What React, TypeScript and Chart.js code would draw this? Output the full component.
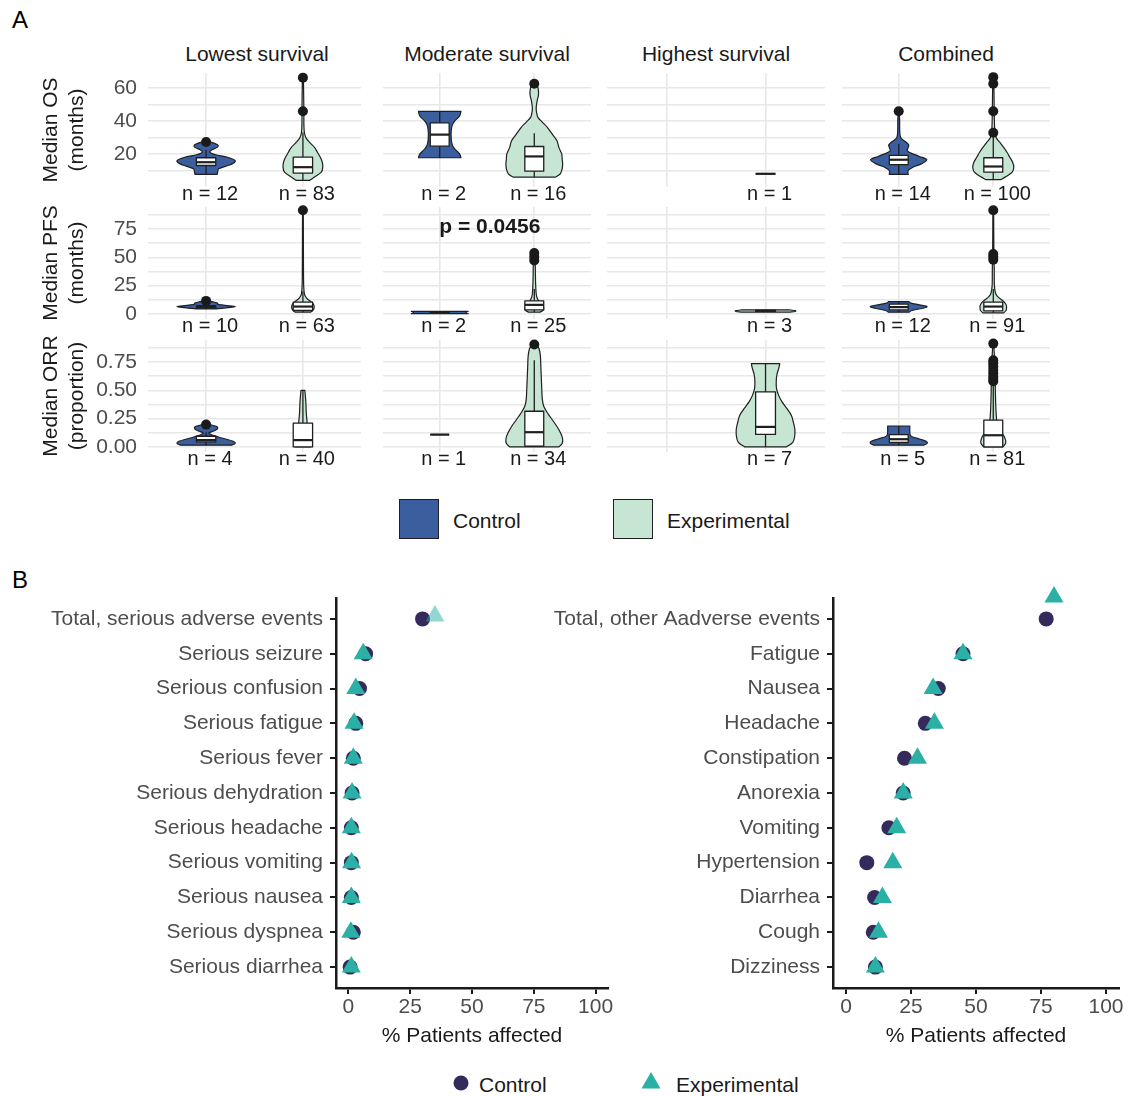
import React, { useEffect, useRef } from "react";
import { Chart, registerables } from "chart.js";
Chart.register(...registerables);

type Pt = [number, number];
type Box5 = [number, number, number, number, number];

const FONT = '"Liberation Sans", Arial, Helvetica, sans-serif';

// ================= Panel A data =================
const survivalGroups = ["Lowest survival", "Moderate survival", "Highest survival", "Combined"];
const armNames = ["Control", "Experimental"];

const osAxisTitle = ["Median OS", "(months)"];
const pfsAxisTitle = ["Median PFS", "(months)"];
const orrAxisTitle = ["Median ORR", "(proportion)"];

const osRange = [0, 69];
const pfsRange = [-4.5, 94.5];
const orrRange = [-0.045, 0.945];
const osMajorTicks = [20, 40, 60];
const osMinorTicks = [10, 30, 50];
const pfsMajorTicks = [0, 25, 50, 75];
const pfsMinorTicks = [12.5, 37.5, 62.5, 87.5];
const orrMajorTicks = [0, 0.25, 0.5, 0.75];
const orrMinorTicks = [0.125, 0.375, 0.625, 0.875];

// violin outlines: [value, half-width in category units]
const osLowestControlViolin: Pt[] = [[7.6, 0.115], [9, 0.12], [11, 0.13], [12.5, 0.2], [14, 0.27], [16, 0.3], [18, 0.22], [19.5, 0.1], [21, 0.04], [22.5, 0.06], [24, 0.115], [25.5, 0.12], [27.2, 0.05]];
const osLowestExpViolin: Pt[] = [[4, 0.07], [6, 0.12], [9, 0.19], [12, 0.205], [15, 0.2], [18, 0.18], [21, 0.15], [24, 0.12], [27, 0.07], [30, 0.03], [33, 0.015], [38, 0.01], [45.8, 0.01], [55, 0.008], [66.2, 0.005]];
const osModerateControlViolin: Pt[] = [[17.7, 0.225], [20, 0.21], [23, 0.16], [26, 0.13], [31.7, 0.12], [37, 0.13], [40, 0.16], [43, 0.21], [45.8, 0.225]];
const osModerateExpViolin: Pt[] = [[6, 0.225], [8, 0.275], [11, 0.295], [14, 0.3], [17, 0.295], [20, 0.29], [24, 0.26], [28, 0.24], [32, 0.19], [36, 0.14], [39, 0.09], [42, 0.04], [45, 0.025], [48, 0.02], [52, 0.03], [56, 0.045], [60, 0.04], [62.5, 0.02]];
const osCombinedControlViolin: Pt[] = [[7.6, 0.1], [10, 0.1], [12, 0.15], [14, 0.24], [16.5, 0.297], [18.5, 0.22], [20.5, 0.13], [22, 0.09], [24, 0.1], [25.5, 0.105], [27.5, 0.07], [30, 0.02], [35, 0.01], [40, 0.01], [45.8, 0.005]];
const osCombinedExpViolin: Pt[] = [[4.5, 0.08], [6.5, 0.14], [9, 0.2], [12, 0.217], [15, 0.205], [18, 0.175], [21, 0.145], [24, 0.11], [27, 0.07], [30, 0.03], [35, 0.015], [45, 0.01], [55, 0.008], [66.5, 0.005]];

const pfsLowestControlViolin: Pt[] = [[4.4, 0.1], [5.5, 0.22], [6.5, 0.3], [7.5, 0.2], [8.5, 0.12], [9.5, 0.12], [10.5, 0.08], [11.5, 0.02]];
const pfsLowestExpViolin: Pt[] = [[1.5, 0.08], [3, 0.1], [5, 0.115], [7, 0.115], [9, 0.105], [11, 0.08], [13, 0.05], [15, 0.03], [18, 0.015], [25, 0.008], [40, 0.006], [60, 0.005], [91.6, 0.004]];
const pfsModerateControlViolin: Pt[] = [[0.2, 0.3], [0.8, 0.28], [1.6, 0.28], [2.2, 0.3]];
const pfsModerateExpViolin: Pt[] = [[1.5, 0.06], [3, 0.09], [5, 0.1], [7, 0.09], [9, 0.07], [11, 0.05], [14, 0.03], [18, 0.02], [25, 0.015], [35, 0.012], [45, 0.01], [53.8, 0.005]];
const pfsHighestExpViolin: Pt[] = [[1.6, 0.25], [2.3, 0.3], [2.9, 0.3], [3.6, 0.24]];
const pfsCombinedControlViolin: Pt[] = [[1.5, 0.11], [3, 0.14], [5, 0.25], [6.5, 0.3], [8, 0.22], [9.5, 0.13], [10.8, 0.11]];
const pfsCombinedExpViolin: Pt[] = [[1, 0.11], [3, 0.135], [5, 0.14], [7, 0.14], [9, 0.13], [11, 0.11], [13, 0.08], [15, 0.05], [18, 0.025], [25, 0.012], [40, 0.01], [60, 0.006], [91.6, 0.004]];

const orrLowestControlViolin: Pt[] = [[0.015, 0.26], [0.03, 0.3], [0.05, 0.28], [0.07, 0.2], [0.09, 0.12], [0.11, 0.05], [0.125, 0.03], [0.14, 0.08], [0.16, 0.117], [0.18, 0.11], [0.197, 0.04]];
const orrLowestExpViolin: Pt[] = [[0, 0.08], [0.05, 0.09], [0.1, 0.07], [0.15, 0.05], [0.2, 0.045], [0.3, 0.035], [0.4, 0.03], [0.5, 0.02]];
const orrModerateExpViolin: Pt[] = [[0, 0.26], [0.03, 0.295], [0.07, 0.3], [0.12, 0.28], [0.18, 0.24], [0.24, 0.19], [0.3, 0.14], [0.36, 0.1], [0.42, 0.085], [0.5, 0.08], [0.6, 0.075], [0.7, 0.07], [0.8, 0.065], [0.87, 0.05], [0.906, 0.02]];
const orrHighestExpViolin: Pt[] = [[0, 0.21], [0.04, 0.275], [0.1, 0.295], [0.16, 0.295], [0.22, 0.28], [0.28, 0.26], [0.34, 0.215], [0.4, 0.165], [0.46, 0.13], [0.52, 0.11], [0.58, 0.108], [0.64, 0.115], [0.7, 0.135], [0.736, 0.143]];
const orrCombinedControlViolin: Pt[] = [[0.015, 0.26], [0.03, 0.3], [0.05, 0.29], [0.07, 0.22], [0.09, 0.14], [0.11, 0.12], [0.14, 0.117], [0.185, 0.117]];
const orrCombinedExpViolin: Pt[] = [[0, 0.1], [0.03, 0.13], [0.06, 0.13], [0.1, 0.11], [0.15, 0.06], [0.2, 0.04], [0.3, 0.03], [0.4, 0.025], [0.5, 0.022], [0.6, 0.02], [0.7, 0.018], [0.8, 0.012], [0.913, 0.005]];

// box stats: [lower whisker, q1, median, q3, upper whisker]
const osBoxes: (Box5 | null)[][] = [
  [[7.6, 13, 15, 17.7, 22.5], [4, 8.4, 12, 18.1, 33]],
  [[17.7, 24.7, 31.7, 38.8, 45.8], [6, 9.6, 18.5, 24.5, 32.6]],
  [null, [8, 8, 8, 8, 8]],
  [[7.6, 13.6, 16.5, 19.1, 26.2], [4.5, 9, 12.4, 17.7, 30.2]],
];
const pfsBoxes: (Box5 | null)[][] = [
  [[4.4, 5.5, 6.5, 7.3, 9.5], [1.5, 3, 6.5, 10.5, 20]],
  [[0.2, 0.7, 1.2, 1.7, 2.2], [1.5, 3.5, 8, 11.5, 22]],
  [null, [1.6, 2.2, 2.6, 3.0, 3.6]],
  [[1.5, 3.5, 6, 8.6, 10.8], [1, 2.7, 6.5, 10.4, 22]],
];
const orrBoxes: (Box5 | null)[][] = [
  [[0.015, 0.044, 0.06, 0.094, 0.13], [0, 0, 0.06, 0.21, 0.5]],
  [[0.109, 0.109, 0.109, 0.109, 0.109], [0, 0.006, 0.13, 0.315, 0.765]],
  [null, [0, 0.11, 0.177, 0.486, 0.736]],
  [[0.015, 0.039, 0.068, 0.109, 0.185], [0, 0, 0.103, 0.236, 0.55]],
];

const osOutliers: number[][][] = [[[27.2], [45.8, 66.2]], [[], [62.5]], [[], []], [[45.8], [32.8, 45.8, 62.5, 66.5]]];
const pfsOutliers: number[][][] = [[[11.5], [91.6]], [[], [47.3, 50.5, 53.8]], [[], []], [[], [47.9, 50.5, 52.9, 91.6]]];
const orrOutliers: number[][][] = [[[0.197], []], [[], [0.906]], [[], []], [[], [0.58, 0.6, 0.62, 0.65, 0.68, 0.71, 0.74, 0.765, 0.913]]];

const osCounts = [[12, 83], [2, 16], [null, 1], [14, 100]];
const pfsCounts = [[10, 63], [2, 25], [null, 3], [12, 91]];
const orrCounts = [[4, 40], [1, 34], [null, 7], [5, 81]];

const osViolins = [[osLowestControlViolin, osLowestExpViolin], [osModerateControlViolin, osModerateExpViolin], [null, null], [osCombinedControlViolin, osCombinedExpViolin]];
const pfsViolins = [[pfsLowestControlViolin, pfsLowestExpViolin], [pfsModerateControlViolin, pfsModerateExpViolin], [null, pfsHighestExpViolin], [pfsCombinedControlViolin, pfsCombinedExpViolin]];
const orrViolins = [[orrLowestControlViolin, orrLowestExpViolin], [null, orrModerateExpViolin], [null, orrHighestExpViolin], [orrCombinedControlViolin, orrCombinedExpViolin]];

const pValueText = "p = 0.0456";
const pValueRow = 1;
const pValueCol = 1;
const pValueAt: Pt = [1.53, 77];

// ================= Panel B data =================
const seriousEvents = ["Total, serious adverse events", "Serious seizure", "Serious confusion", "Serious fatigue", "Serious fever", "Serious dehydration", "Serious headache", "Serious vomiting", "Serious nausea", "Serious dyspnea", "Serious diarrhea"];
const seriousControl = [30, 7, 4.5, 3, 2, 1.5, 1.2, 1.2, 1.2, 2, 0.7];
const seriousExperimental = [35, 6, 3, 2.3, 2, 1.5, 1.2, 1.3, 1.2, 1, 1.2];
const seriousExperimentalRowShift = [-0.08, 0, 0, 0, 0, 0, 0, 0, 0, 0, 0];

const otherEvents = ["Total, other Aadverse events", "Fatigue", "Nausea", "Headache", "Constipation", "Anorexia", "Vomiting", "Hypertension", "Diarrhea", "Cough", "Dizziness"];
const otherControl = [77, 45, 35.5, 30.5, 22.5, 22, 16.5, 8, 11, 10.5, 11.3];
const otherExperimental = [80, 45, 33.5, 34, 27.5, 22, 19.5, 18, 14, 12.5, 11.3];
const otherExperimentalRowShift = [-0.63, 0, 0, 0, 0, 0, 0, 0, 0, 0, 0];

const percentRange = [-5, 105];
const percentTicks = [0, 25, 50, 75, 100];
const percentTitle = "% Patients affected";

// ================= styles / layout =================
const CONTROL_FILL = "#3a5e9e";
const EXP_FILL = "#c6e5d2";
const OUTLINE = "#1f1f1f";
const GRID = "#e8e8e8";
const CTRL_DOT = "#342a5b";
const EXP_DOT = "#2ab0a5";
const EXP_DOT_FADED = "rgba(42,176,165,0.5)";
const AXIS = "#1a1a1a";
const TICK_TEXT = "#4d4d4d";
const BOX_HALF = 0.1;

const PANEL_LEFTS = [148, 378, 607, 837];
const PANEL_W = 218;
const ROWS = [{ top: 73, bottom: 187 }, { top: 207, bottom: 319 }, { top: 340, bottom: 452 }];
const PAD_T = 8;
const PAD_B = 24;

const metrics = [
  { title: osAxisTitle, range: osRange, major: osMajorTicks, minor: osMinorTicks, dec: 0, violins: osViolins, boxes: osBoxes, outliers: osOutliers, counts: osCounts },
  { title: pfsAxisTitle, range: pfsRange, major: pfsMajorTicks, minor: pfsMinorTicks, dec: 0, violins: pfsViolins, boxes: pfsBoxes, outliers: pfsOutliers, counts: pfsCounts },
  { title: orrAxisTitle, range: orrRange, major: orrMajorTicks, minor: orrMinorTicks, dec: 2, violins: orrViolins, boxes: orrBoxes, outliers: orrOutliers, counts: orrCounts },
];

function zeroPad(s: any) {
  s.paddingTop = 0;
  s.paddingBottom = 0;
  s.paddingLeft = 0;
  s.paddingRight = 0;
}

function catmull(ctx: CanvasRenderingContext2D, pts: Pt[]) {
  for (let i = 0; i < pts.length - 1; i++) {
    const p0 = pts[Math.max(0, i - 1)], p1 = pts[i], p2 = pts[i + 1], p3 = pts[Math.min(pts.length - 1, i + 2)];
    ctx.bezierCurveTo(
      p1[0] + (p2[0] - p0[0]) / 6, p1[1] + (p2[1] - p0[1]) / 6,
      p2[0] - (p3[0] - p1[0]) / 6, p2[1] - (p3[1] - p1[1]) / 6,
      p2[0], p2[1]
    );
  }
}

function drawViolin(ctx: CanvasRenderingContext2D, xs: any, ys: any, cx: number, profile: Pt[], fill: string) {
  const left: Pt[] = profile.map(([v, w]) => [xs.getPixelForValue(cx - w), ys.getPixelForValue(v)]);
  const right: Pt[] = profile.map(([v, w]) => [xs.getPixelForValue(cx + w), ys.getPixelForValue(v)] as Pt).reverse();
  ctx.beginPath();
  ctx.moveTo(left[0][0], left[0][1]);
  catmull(ctx, left);
  ctx.lineTo(right[0][0], right[0][1]);
  catmull(ctx, right);
  ctx.closePath();
  ctx.fillStyle = fill;
  ctx.fill();
  ctx.lineWidth = 1.2;
  ctx.lineJoin = "round";
  ctx.strokeStyle = OUTLINE;
  ctx.stroke();
}

function drawBox(ctx: CanvasRenderingContext2D, xs: any, ys: any, cx: number, b: Box5) {
  const [lo, q1, med, q3, hi] = b;
  const xl = xs.getPixelForValue(cx - BOX_HALF);
  const xr = xs.getPixelForValue(cx + BOX_HALF);
  const xc = xs.getPixelForValue(cx);
  const yLo = ys.getPixelForValue(lo), yQ1 = ys.getPixelForValue(q1), yMed = ys.getPixelForValue(med);
  const yQ3 = ys.getPixelForValue(q3), yHi = ys.getPixelForValue(hi);
  ctx.strokeStyle = OUTLINE;
  ctx.lineWidth = 1.3;
  ctx.beginPath();
  ctx.moveTo(xc, yQ3); ctx.lineTo(xc, yHi);
  ctx.moveTo(xc, yQ1); ctx.lineTo(xc, yLo);
  ctx.stroke();
  ctx.fillStyle = "#ffffff";
  ctx.fillRect(xl, yQ3, xr - xl, yQ1 - yQ3);
  ctx.strokeRect(xl, yQ3, xr - xl, yQ1 - yQ3);
  ctx.lineWidth = 2.2;
  ctx.beginPath();
  ctx.moveTo(xl, yMed); ctx.lineTo(xr, yMed);
  ctx.stroke();
}

function Label(props: { x: number; y: number; children: any; size?: number; color?: string; align?: string; weight?: number }) {
  const { x, y, children, size = 21, color = "#1a1a1a", align = "left", weight = 400 } = props;
  const tx = align === "center" ? "-50%" : align === "right" ? "-100%" : "0";
  return (
    <div style={{ position: "absolute", left: x, top: y, transform: `translate(${tx},-50%)`, fontSize: size, lineHeight: 1, color, fontWeight: weight, whiteSpace: "nowrap", fontFamily: FONT }}>
      {children}
    </div>
  );
}

function panelGeom(r: number, c: number) {
  const left = c === 0 ? 0 : PANEL_LEFTS[c];
  const width = c === 0 ? PANEL_LEFTS[0] + PANEL_W : PANEL_W;
  const top = ROWS[r].top - PAD_T;
  const height = ROWS[r].bottom - ROWS[r].top + PAD_T + PAD_B;
  return { left, width, top, height };
}

const DOT_TOP = 584;
const DOT_H = 466;
const dotGeoms = [
  { left: 0, width: 620, yWidth: 336, padRight: 12 },
  { left: 520, width: 610, yWidth: 313, padRight: 8 },
];

export default function App() {
  const panelRefs = useRef<(HTMLCanvasElement | null)[]>([]);
  const dotRefs = useRef<(HTMLCanvasElement | null)[]>([]);

  useEffect(() => {
    const charts: Chart[] = [];
    metrics.forEach((m, r) => {
      survivalGroups.forEach((_, c) => {
        const canvas = panelRefs.current[r * 4 + c];
        if (!canvas) return;
        const isFirst = c === 0;
        const plugin = {
          id: "violinPanel" + r + c,
          beforeDatasetsDraw(chart: any) {
            const { ctx, scales } = chart;
            ctx.save();
            for (let a = 0; a < 2; a++) {
              const prof = m.violins[c][a];
              if (prof) drawViolin(ctx, scales.x, scales.y, a + 1, prof, a === 0 ? CONTROL_FILL : EXP_FILL);
              const b = m.boxes[c][a];
              if (b) drawBox(ctx, scales.x, scales.y, a + 1, b);
            }
            ctx.restore();
          },
          afterDraw(chart: any) {
            const { ctx, scales, chartArea } = chart;
            ctx.save();
            ctx.fillStyle = "#1a1a1a";
            ctx.textAlign = "center";
            ctx.textBaseline = "middle";
            ctx.font = `20px ${FONT}`;
            for (let a = 0; a < 2; a++) {
              const n = m.counts[c][a];
              if (n == null) continue;
              ctx.fillText(`n = ${n}`, scales.x.getPixelForValue(a + 1) + 4, chartArea.bottom + 7);
            }
            if (r === pValueRow && c === pValueCol) {
              ctx.font = `bold 21px ${FONT}`;
              ctx.fillText(pValueText, scales.x.getPixelForValue(pValueAt[0]), scales.y.getPixelForValue(pValueAt[1]));
            }
            ctx.restore();
          },
        };
        const datasets = [0, 1].map((a) => ({
          label: armNames[a],
          data: m.outliers[c][a].map((v) => ({ x: a + 1, y: v })),
          pointRadius: 5,
          pointBackgroundColor: "#1a1a1a",
          pointBorderWidth: 0,
          showLine: false,
          clip: false as any,
        }));
        const ch = new Chart(canvas, {
          type: "scatter",
          data: { datasets },
          options: {
            animation: false,
            responsive: false,
            events: [],
            layout: { padding: { top: PAD_T, bottom: PAD_B, left: 0, right: 0 } },
            plugins: { legend: { display: false }, tooltip: { enabled: false } },
            scales: {
              x: {
                type: "linear",
                min: 0.4,
                max: 2.6,
                afterBuildTicks: (s: any) => { s.ticks = [{ value: 1 }, { value: 2 }]; },
                afterFit: (s: any) => { s.height = 0; zeroPad(s); },
                ticks: { display: false },
                grid: { color: GRID, lineWidth: 1.6, drawTicks: false },
                border: { display: false },
              },
              y: {
                type: "linear",
                min: m.range[0],
                max: m.range[1],
                afterBuildTicks: (s: any) => {
                  s.ticks = [...m.major, ...m.minor].sort((p, q) => p - q).map((v) => ({ value: v }));
                },
                afterFit: (s: any) => { s.width = isFirst ? PANEL_LEFTS[0] : 0; zeroPad(s); },
                ticks: {
                  display: isFirst,
                  padding: 11,
                  color: TICK_TEXT,
                  font: { family: FONT, size: 21 },
                  autoSkip: false,
                  callback: (v: any) => (m.major.includes(Number(v)) ? Number(v).toFixed(m.dec) : ""),
                },
                grid: { color: GRID, lineWidth: 1.6, drawTicks: false },
                border: { display: false },
                title: {
                  display: isFirst,
                  text: m.title,
                  color: "#1a1a1a",
                  font: { family: FONT, size: 21, lineHeight: 1.25 },
                  padding: { top: 38, bottom: 0 },
                },
              },
            },
          } as any,
          plugins: [plugin as any],
        });
        charts.push(ch);
      });
    });

    const dotSets = [
      { labels: seriousEvents, ctrl: seriousControl, exp: seriousExperimental, shift: seriousExperimentalRowShift, fadeFirst: true },
      { labels: otherEvents, ctrl: otherControl, exp: otherExperimental, shift: otherExperimentalRowShift, fadeFirst: false },
    ];
    dotSets.forEach((d, i) => {
      const canvas = dotRefs.current[i];
      if (!canvas) return;
      const g = dotGeoms[i];
      const ch = new Chart(canvas, {
        type: "scatter",
        data: {
          datasets: [
            {
              label: "Experimental",
              data: d.exp.map((v, k) => ({ x: v, y: k + 1 + d.shift[k] })),
              pointStyle: "triangle",
              pointRadius: 11,
              pointBackgroundColor: (c: any) => (d.fadeFirst && c.dataIndex === 0 ? EXP_DOT_FADED : EXP_DOT),
              pointBorderWidth: 0,
              order: 0,
              clip: false as any,
            },
            {
              label: "Control",
              data: d.ctrl.map((v, k) => ({ x: v, y: k + 1 })),
              pointStyle: "circle",
              pointRadius: 7.5,
              pointBackgroundColor: CTRL_DOT,
              pointBorderWidth: 0,
              order: 1,
              clip: false as any,
            },
          ],
        },
        options: {
          animation: false,
          responsive: false,
          events: [],
          layout: { padding: { top: 598 - DOT_TOP, bottom: 0, left: 0, right: g.padRight } },
          plugins: { legend: { display: false }, tooltip: { enabled: false } },
          scales: {
            x: {
              type: "linear",
              min: percentRange[0],
              max: percentRange[1],
              afterBuildTicks: (s: any) => { s.ticks = percentTicks.map((v) => ({ value: v })); },
              afterFit: (s: any) => { s.height = 62; zeroPad(s); },
              ticks: { color: TICK_TEXT, font: { family: FONT, size: 21 }, padding: 1, maxRotation: 0, autoSkip: false },
              grid: { drawOnChartArea: false, drawTicks: true, tickLength: 6, color: AXIS, lineWidth: 2 },
              border: { display: true, color: AXIS, width: 2.5 },
              title: { display: true, text: percentTitle, color: "#1a1a1a", font: { family: FONT, size: 21 }, padding: { top: 0, bottom: 1.4 } },
            },
            y: {
              type: "linear",
              reverse: true,
              min: 0.4,
              max: d.labels.length + 0.6,
              afterBuildTicks: (s: any) => { s.ticks = d.labels.map((_, k) => ({ value: k + 1 })); },
              afterFit: (s: any) => { s.width = g.yWidth; zeroPad(s); },
              ticks: {
                color: TICK_TEXT,
                font: { family: FONT, size: 21 },
                padding: 7,
                autoSkip: false,
                callback: (v: any) => d.labels[Number(v) - 1] ?? "",
              },
              grid: { drawOnChartArea: false, drawTicks: true, tickLength: 6, color: AXIS, lineWidth: 2 },
              border: { display: true, color: AXIS, width: 2.5 },
            },
          },
        } as any,
      });
      charts.push(ch);
    });

    return () => charts.forEach((c) => c.destroy());
  }, []);

  const panelCanvases: any[] = [];
  metrics.forEach((_, r) => {
    survivalGroups.forEach((__, c) => {
      const g = panelGeom(r, c);
      panelCanvases.push(
        <canvas
          key={`p${r}${c}`}
          ref={(el) => { panelRefs.current[r * 4 + c] = el; }}
          width={g.width}
          height={g.height}
          style={{ position: "absolute", left: g.left, top: g.top, width: g.width, height: g.height }}
        />
      );
    });
  });

  return (
    <div style={{ position: "fixed", left: 0, top: 0, width: 1130, height: 1096, background: "#ffffff", overflow: "hidden", fontFamily: FONT }}>
      <Label x={12} y={20} size={24} color="#000">A</Label>
      <Label x={12} y={580} size={24} color="#000">B</Label>
      {survivalGroups.map((s, c) => (
        <Label key={s} x={PANEL_LEFTS[c] + PANEL_W / 2} y={53} align="center">{s}</Label>
      ))}
      {panelCanvases}
      {/* Legend A */}
      <div style={{ position: "absolute", left: 399, top: 499, width: 38, height: 38, background: CONTROL_FILL, border: `1.2px solid ${OUTLINE}` }} />
      <Label x={453} y={520}>{armNames[0]}</Label>
      <div style={{ position: "absolute", left: 613, top: 499, width: 38, height: 38, background: EXP_FILL, border: `1.2px solid ${OUTLINE}` }} />
      <Label x={667} y={520}>{armNames[1]}</Label>
      {dotGeoms.map((g, i) => (
        <canvas
          key={`d${i}`}
          ref={(el) => { dotRefs.current[i] = el; }}
          width={g.width}
          height={DOT_H}
          style={{ position: "absolute", left: g.left, top: DOT_TOP, width: g.width, height: DOT_H }}
        />
      ))}
      {/* Legend B */}
      <svg style={{ position: "absolute", left: 0, top: 1060 }} width={1130} height={36}>
        <circle cx={461} cy={23} r={7.5} fill={CTRL_DOT} />
        <polygon points="651,12 660.5,28.5 641.5,28.5" fill={EXP_DOT} />
      </svg>
      <Label x={479} y={1084}>{armNames[0]}</Label>
      <Label x={676} y={1084}>{armNames[1]}</Label>
    </div>
  );
}
